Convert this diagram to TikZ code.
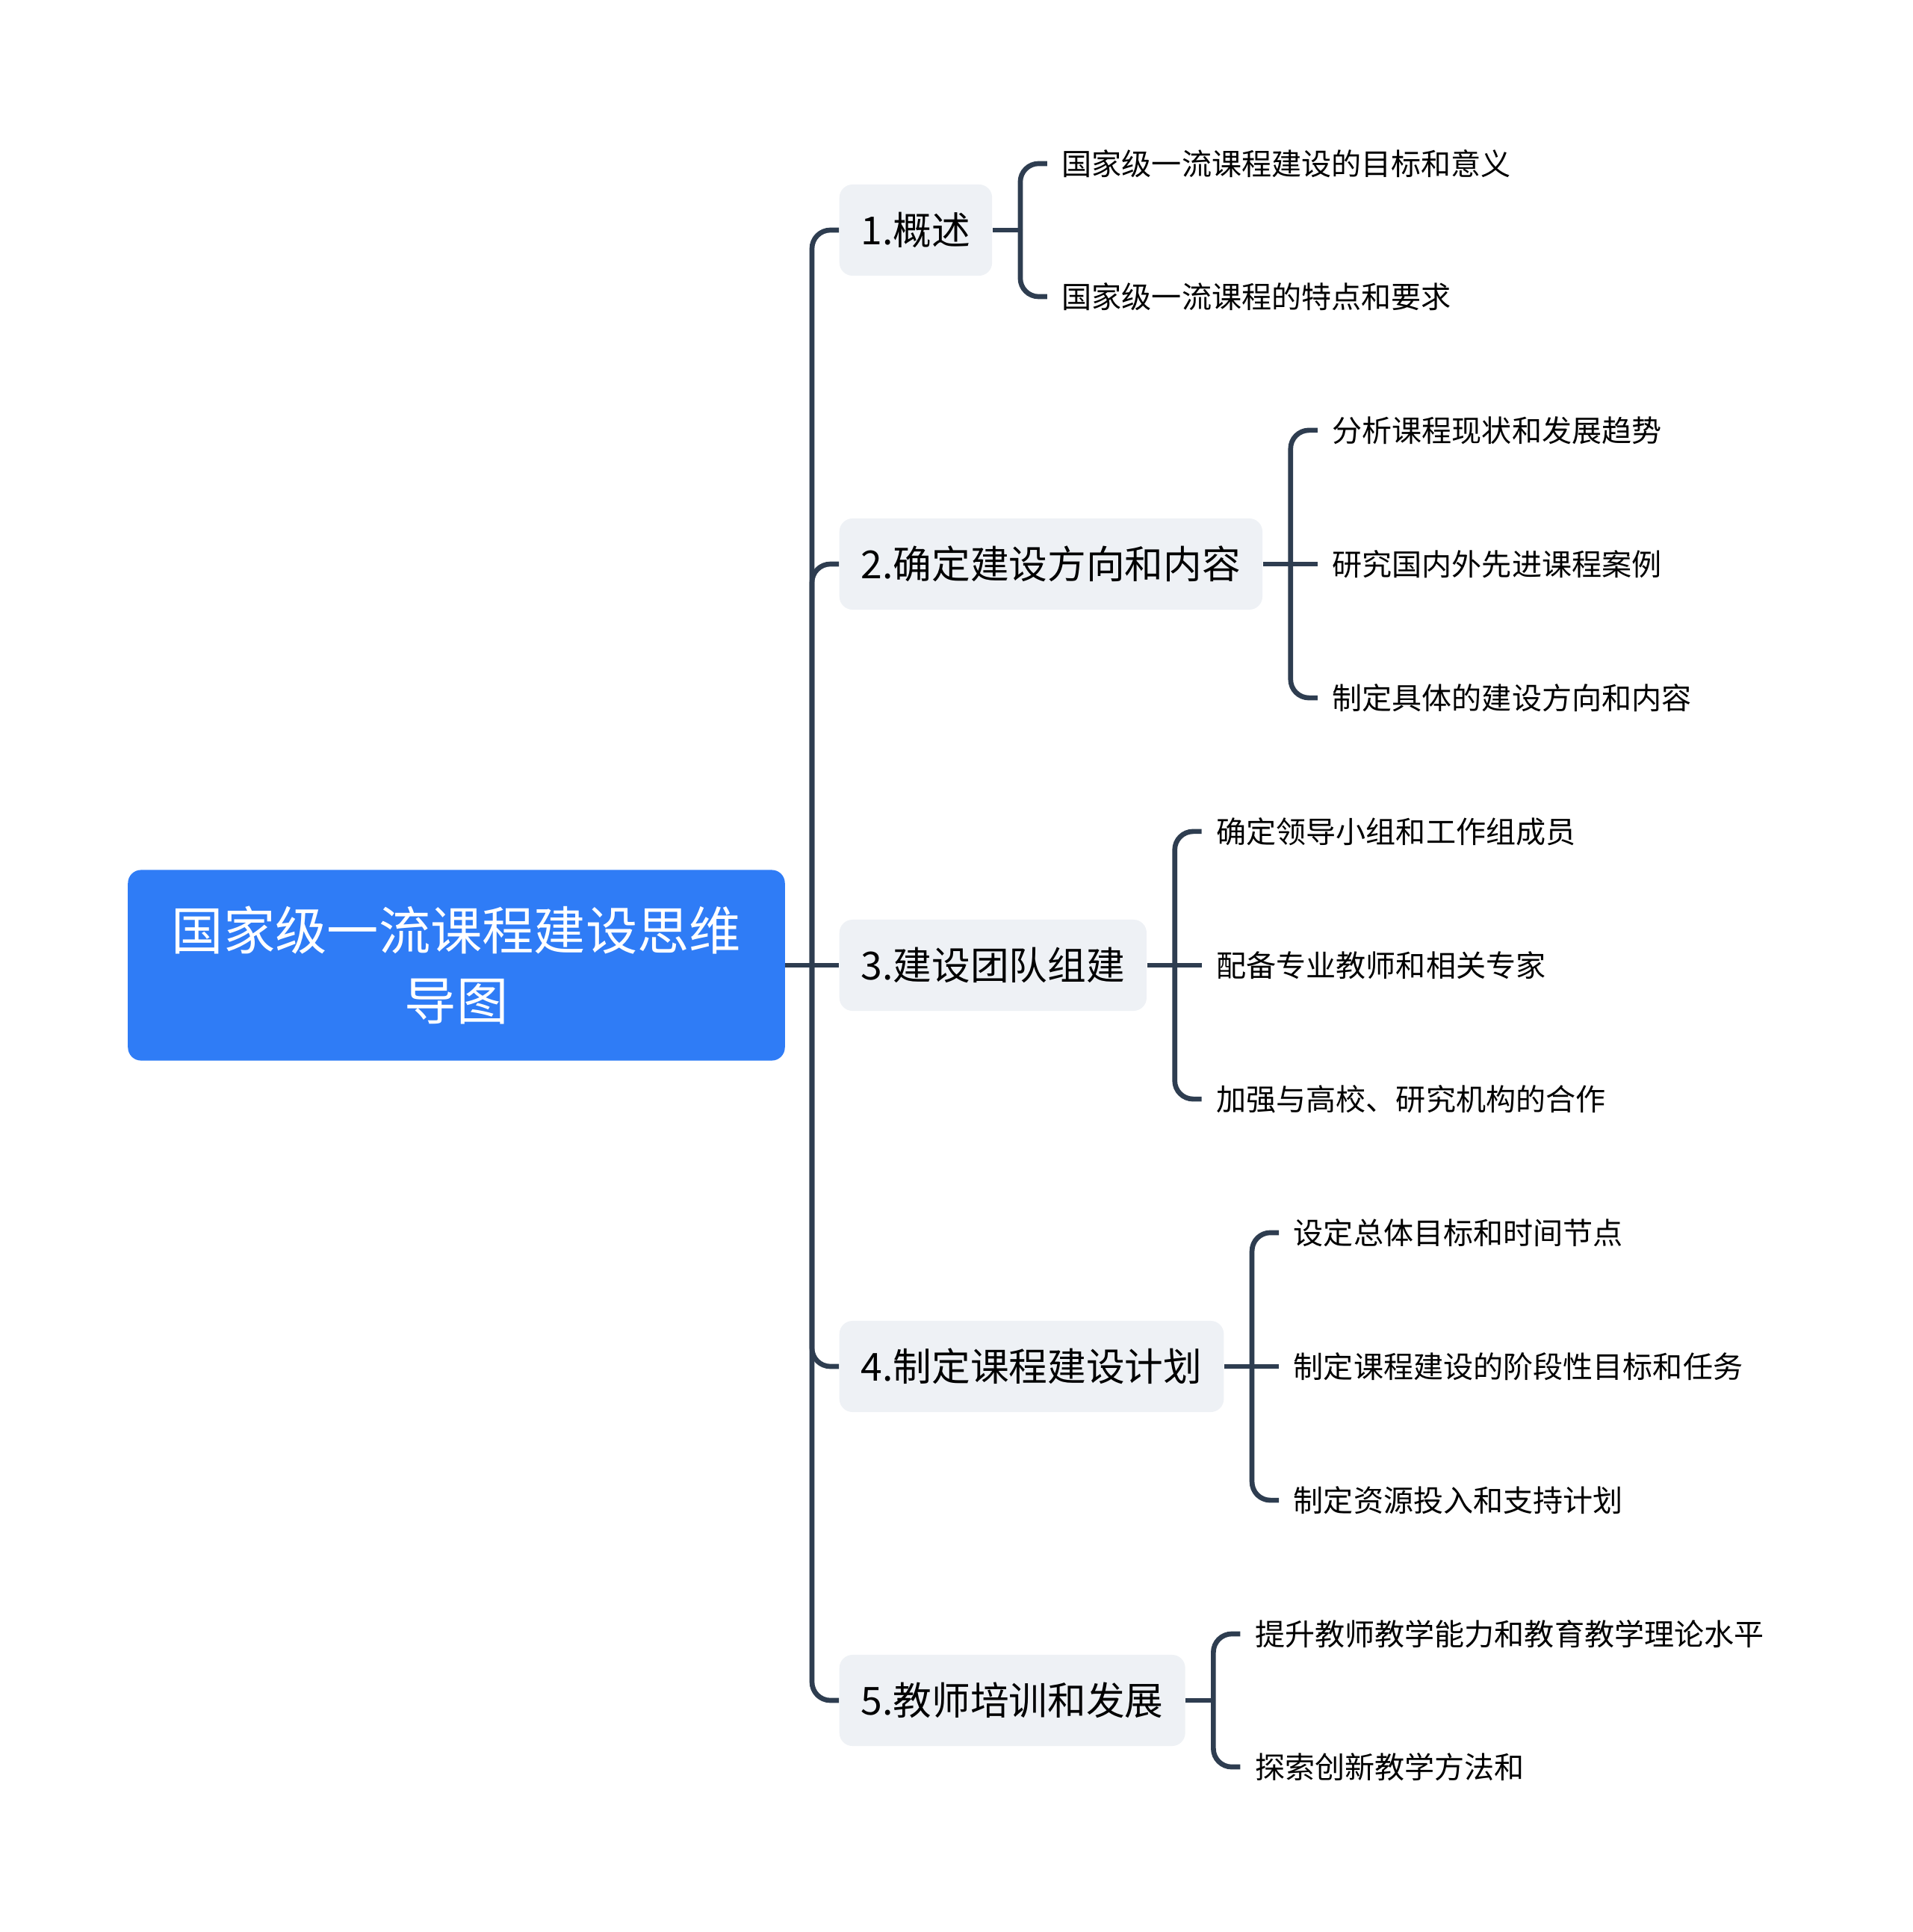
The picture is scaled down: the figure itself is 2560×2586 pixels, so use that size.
\documentclass[tikz,border=0pt]{standalone}
\usepackage{fontspec}
\setmainfont{Noto Sans CJK SC}
\usetikzlibrary{positioning}
\definecolor{rootblue}{HTML}{2F7CF6}
\definecolor{topicgray}{HTML}{EEF1F5}
\definecolor{linkslate}{HTML}{2E3D50}

\begin{document}
\begin{tikzpicture}[
        x=0.01cm, y=-0.01cm,
        root/.style={rectangle, fill=rootblue, text=white, rounded corners=5pt,
                     minimum width=8.79cm, minimum height=2.55cm, align=center,
                     font=\fontsize{19.7}{26.7}\selectfont},
        topic/.style={rectangle, fill=topicgray, rounded corners=5pt, anchor=west,
                      minimum height=1.22cm, inner xsep=0.29cm,
                      font=\fontsize{14.7}{18}\selectfont},
        leaf/.style={inner xsep=0.19cm, inner ysep=2pt, anchor=west,
                     font=\fontsize{11.4}{14}\selectfont},
        link/.style={draw=linkslate, line width=1.9pt, rounded corners=7pt}
    ]
        \useasboundingbox (0,0) rectangle (2560,2586);

        \node[root] (root) at (611,1292) {国家级一流课程建设思维\\导图};

        \node[topic] (t1) at (1123,308) {1.概述};
        \node[topic] (t2) at (1123,755) {2.确定建设方向和内容};
        \node[topic] (t3) at (1123,1292) {3.建设团队组建};
        \node[topic] (t4) at (1123,1829) {4.制定课程建设计划};
        \node[topic] (t5) at (1123,2276) {5.教师培训和发展};

        % trunk
        \coordinate (hub) at (1087,1292);
        \draw[link] (root.east) -- (t3.west);
        \foreach \t in {t1,t2,t4,t5}
            \draw[link] (hub) |- (\t.west);

        % 1
        \node[leaf] (l11) at ([xshift=0.73cm, yshift=0.89cm]t1.east) {国家级一流课程建设的目标和意义};
        \node[leaf] (l12) at ([xshift=0.73cm, yshift=-0.89cm]t1.east) {国家级一流课程的特点和要求};
        \draw[link] (t1.east) -- ++(37,0) coordinate (b1);
        \foreach \l in {l11,l12}
            \draw[link] (b1) |- (\l.west);

        % 2
        \node[leaf] (l21) at ([xshift=0.73cm, yshift=1.79cm]t2.east) {分析课程现状和发展趋势};
        \node[leaf] (l22) at ([xshift=0.73cm]t2.east) {研究国内外先进课程案例};
        \node[leaf] (l23) at ([xshift=0.73cm, yshift=-1.79cm]t2.east) {制定具体的建设方向和内容};
        \draw[link] (t2.east) -- (l22.west);
        \path (t2.east) -- ++(37,0) coordinate (b2);
        \foreach \l in {l21,l23}
            \draw[link] (b2) |- (\l.west);

        % 3
        \node[leaf] (l31) at ([xshift=0.73cm, yshift=1.79cm]t3.east) {确定领导小组和工作组成员};
        \node[leaf] (l32) at ([xshift=0.73cm]t3.east) {配备专业教师和相关专家};
        \node[leaf] (l33) at ([xshift=0.73cm, yshift=-1.79cm]t3.east) {加强与高校、研究机构的合作};
        \draw[link] (t3.east) -- (l32.west);
        \path (t3.east) -- ++(37,0) coordinate (b3);
        \foreach \l in {l31,l33}
            \draw[link] (b3) |- (\l.west);

        % 4
        \node[leaf] (l41) at ([xshift=0.73cm, yshift=1.79cm]t4.east) {设定总体目标和时间节点};
        \node[leaf] (l42) at ([xshift=0.73cm]t4.east) {制定课程建设的阶段性目标和任务};
        \node[leaf] (l43) at ([xshift=0.73cm, yshift=-1.79cm]t4.east) {制定资源投入和支持计划};
        \draw[link] (t4.east) -- (l42.west);
        \path (t4.east) -- ++(37,0) coordinate (b4);
        \foreach \l in {l41,l43}
            \draw[link] (b4) |- (\l.west);

        % 5
        \node[leaf] (l51) at ([xshift=0.73cm, yshift=0.89cm]t5.east) {提升教师教学能力和教育教学理论水平};
        \node[leaf] (l52) at ([xshift=0.73cm, yshift=-0.89cm]t5.east) {探索创新教学方法和};
        \draw[link] (t5.east) -- ++(37,0) coordinate (b5);
        \foreach \l in {l51,l52}
            \draw[link] (b5) |- (\l.west);
    \end{tikzpicture}
\end{document}
